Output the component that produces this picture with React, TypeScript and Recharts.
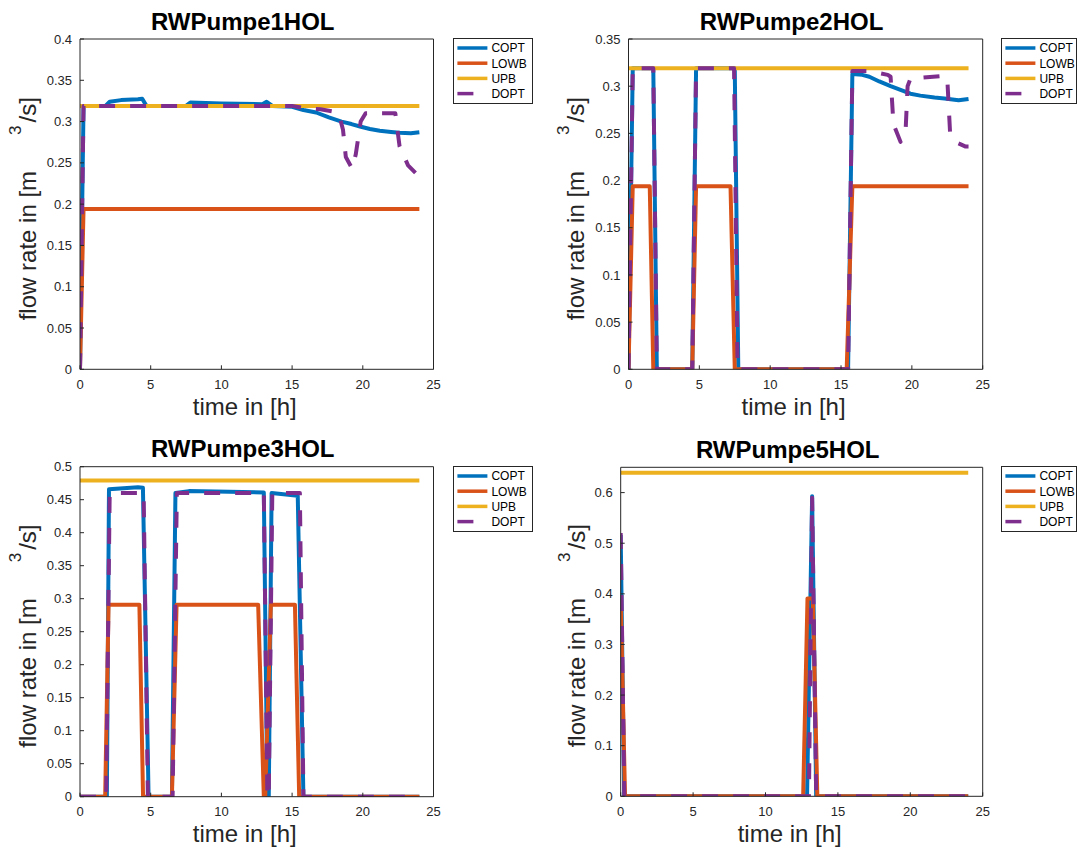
import { FC } from "react"
import { Label, Legend, Line, LineChart, XAxis, YAxis } from "recharts"

type Pt = { t: number; v: number }

const FONT = "'Liberation Sans', Arial, Helvetica, sans-serif"
const INK = '#262626'

const SERIES_NAMES: string[] = ['COPT', 'LOWB', 'UPB', 'DOPT']
const SERIES_COLORS: string[] = ['#0072BD', '#D95319', '#EDB120', '#7E2F8E']
const DASH = '16 15'

const X_TICKS = [0, 5, 10, 15, 20, 25]
const UPB_T = [0, 24]

// RWPumpe1HOL
const p1CoptT = [0, 0.25, 1.8, 2.1, 2.9, 4.1, 4.4, 4.7, 7.5, 7.8, 10, 12.9, 13.2, 13.6, 15, 15.8, 16.7, 17.6, 18.5, 19.2, 19.8, 20.5, 21.2, 22, 22.6, 23.4, 24]
const p1CoptV = [0, 0.319, 0.319, 0.324, 0.326, 0.327, 0.3277, 0.319, 0.319, 0.323, 0.322, 0.321, 0.324, 0.319, 0.318, 0.314, 0.311, 0.305, 0.3, 0.297, 0.294, 0.291, 0.289, 0.2875, 0.2866, 0.2858, 0.287]
const p1LowbT = [0, 0.25, 24]
const p1LowbV = [0, 0.194, 0.194]
const p1UpbV = [0.319, 0.319]
const p1DoptT = [0, 0.25, 15, 16, 17, 18, 18.3, 18.6, 18.8, 19.25, 19.5, 19.85, 20.2, 22.3, 22.6, 23.2, 24]
const p1DoptV = [0, 0.319, 0.319, 0.316, 0.315, 0.312, 0.31, 0.29, 0.257, 0.243, 0.26, 0.3, 0.31, 0.31, 0.27, 0.247, 0.233]

// RWPumpe2HOL
const p2CoptT = [0, 0.3, 1.75, 2.0, 4.5, 4.77, 7.5, 7.75, 15.5, 15.8, 16.5, 17, 17.7, 18.5, 19.2, 19.9, 20.6, 21.6, 22.3, 23.3, 24]
const p2CoptV = [0, 0.319, 0.319, 0, 0, 0.319, 0.319, 0, 0, 0.313, 0.312, 0.31, 0.305, 0.3, 0.296, 0.292, 0.29, 0.288, 0.287, 0.285, 0.2865]
const p2LowbT = [0, 0.3, 1.5, 1.75, 4.5, 4.77, 7.2, 7.5, 15.4, 15.8, 24]
const p2LowbV = [0, 0.194, 0.194, 0, 0, 0.194, 0.194, 0, 0, 0.194, 0.194]
const p2UpbV = [0.319, 0.319]
const p2DoptT = [0, 0.3, 1.75, 2.0, 4.5, 4.77, 7.45, 7.7, 15.5, 15.8, 17, 18.3, 18.5, 18.7, 19.2, 19.55, 19.7, 19.9, 22.3, 22.5, 22.7, 23.2, 23.8, 24]
const p2DoptV = [0, 0.319, 0.319, 0, 0, 0.319, 0.319, 0, 0, 0.316, 0.316, 0.312, 0.31, 0.26, 0.241, 0.25, 0.3, 0.308, 0.311, 0.308, 0.25, 0.24, 0.236, 0.236]

// RWPumpe3HOL
const p3CoptT = [0, 1.9, 2.05, 4.1, 4.45, 4.85, 6.5, 6.75, 7.7, 13.0, 13.25, 13.35, 13.55, 15.4, 15.8, 24]
const p3CoptV = [0, 0, 0.466, 0.469, 0.468, 0, 0, 0.46, 0.463, 0.461, 0, 0, 0.46, 0.456, 0, 0]
const p3LowbT = [0, 1.78, 2.02, 4.2, 4.46, 6.5, 6.83, 12.6, 13.0, 13.1, 13.5, 15.2, 15.5, 24]
const p3LowbV = [0, 0, 0.291, 0.291, 0, 0, 0.291, 0.291, 0, 0, 0.291, 0.291, 0, 0]
const p3UpbV = [0.479, 0.479]
const p3DoptT = [0, 1.85, 2.1, 4.5, 4.8, 6.55, 6.85, 13.0, 13.25, 13.35, 13.6, 15.55, 15.8, 24]
const p3DoptV = [0, 0, 0.46, 0.46, 0, 0, 0.46, 0.46, 0, 0, 0.46, 0.46, 0, 0]

// RWPumpe5HOL
const p4CoptT = [0, 0.24, 12.87, 13.22, 13.5, 24]
const p4CoptV = [0.516, 0, 0, 0.593, 0, 0]
const p4LowbT = [0, 0.3, 12.6, 12.9, 13.27, 13.58, 24]
const p4LowbV = [0.391, 0, 0, 0.391, 0.391, 0, 0]
const p4UpbV = [0.639, 0.639]
const p4DoptT = [0, 0.25, 13.0, 13.22, 13.5, 24]
const p4DoptV = [0.52, 0, 0, 0.59, 0, 0]

const pts = (t: number[], v: number[]): Pt[] => t.map((x, i) => ({ t: x, v: v[i] }))

interface IPanel {
	title: string
	cellLeft: number
	cellTop: number
	cellW: number
	cellH: number
	x0: number
	x1: number
	y0: number
	y1: number
	yMax: number
	yTicks: number[]
	yLabelGap: number
	legendLeft: number
	legendTop: number
	legendW: number
	series: Pt[][]
}

const LegendBox: FC<{ w: number }> = ({ w }) => (
	<div style={{ width: w, height: 66, border: `1px solid ${INK}`, background: '#fff', boxSizing: 'border-box' }}>
		<svg width={w - 2} height={64} style={{ display: 'block' }}>
			{SERIES_NAMES.map((name, i) => (
				<g key={name}>
					<line x1={3.4} x2={33.4} y1={9 + i * 15.2} y2={9 + i * 15.2} stroke={SERIES_COLORS[i]} strokeWidth={3.5}
						strokeDasharray={name === 'DOPT' ? '16 20' : undefined} />
					<text x={37.4} y={9 + i * 15.2} dy="0.36em" fontSize={12} fontFamily={FONT} fill="#000">{name}</text>
				</g>
			))}
		</svg>
	</div>
)

const Panel: FC<IPanel> = (p) => {
	const margin = {
		top: p.y0 - p.cellTop - 10,
		bottom: p.cellTop + p.cellH - p.y1 - 40,
		left: p.x0 - p.cellLeft - 50,
		right: p.cellLeft + p.cellW - p.x1 - 10,
	}
	const midX = (p.x0 + p.x1) / 2 - p.cellLeft
	const top = p.y0 - p.cellTop
	const bottom = p.y1 - p.cellTop
	const yLabelX = p.x0 - p.cellLeft - p.yLabelGap
	const yLabelY = bottom - 49
	const axisStyle = { stroke: INK, strokeWidth: 1 }
	const tickStyle = { fill: INK, fontSize: 13, fontFamily: FONT }

	return (
		<div style={{ position: 'absolute', left: p.cellLeft, top: p.cellTop }}>
			<LineChart width={p.cellW} height={p.cellH} margin={margin}>
				<XAxis dataKey="t" type="number" domain={[0, 25]} ticks={X_TICKS} interval={0} allowDataOverflow
					height={40} tickSize={-4} tickMargin={14} tick={tickStyle} axisLine={axisStyle} tickLine={axisStyle}>
					<Label content={() => (
						<text x={midX - 12} y={bottom + 45.5} textAnchor="middle" fontSize={24} fontFamily={FONT} fill={INK}>time in [h]</text>
					)} />
				</XAxis>
				<XAxis xAxisId="top" orientation="top" dataKey="t" type="number" domain={[0, 25]} ticks={X_TICKS} interval={0}
					allowDataOverflow height={10} tickSize={-4} tick={false} axisLine={axisStyle} tickLine={axisStyle}>
					<Label content={() => (
						<text x={midX - 14} y={top - 9.5} textAnchor="middle" fontSize={24} fontWeight="bold" fontFamily={FONT} fill="#000">{p.title}</text>
					)} />
				</XAxis>
				<YAxis type="number" domain={[0, p.yMax]} ticks={p.yTicks} interval={0} allowDataOverflow
					width={50} tickSize={-4} tickMargin={12} tick={tickStyle} axisLine={axisStyle} tickLine={axisStyle}>
					<Label content={() => (
						<text x={yLabelX} y={yLabelY} transform={`rotate(-90 ${yLabelX} ${yLabelY})`} fontSize={24} fontFamily={FONT} fill={INK}>
							<tspan>flow rate in [m</tspan>
							<tspan dx={36} dy={-15} fontSize={17}>3</tspan>
							<tspan dx={3} dy={15}>/s]</tspan>
						</text>
					)} />
				</YAxis>
				<YAxis yAxisId="right" orientation="right" type="number" domain={[0, p.yMax]} ticks={p.yTicks} interval={0}
					allowDataOverflow width={10} tickSize={-4} tick={false} axisLine={axisStyle} tickLine={axisStyle} />
				{p.series.map((data, i) => (
					<Line
						key={SERIES_NAMES[i]}
						data={data}
						dataKey="v"
						name={SERIES_NAMES[i]}
						type="linear"
						stroke={SERIES_COLORS[i]}
						strokeWidth={4}
						strokeDasharray={SERIES_NAMES[i] === 'DOPT' ? DASH : undefined}
						strokeLinejoin="round"
						dot={false}
						activeDot={false}
						isAnimationActive={false}
					/>
				))}
				<Legend layout="vertical" align="center" verticalAlign="middle" content={() => <LegendBox w={p.legendW} />}
					wrapperStyle={{ left: p.legendLeft - p.cellLeft, top: p.legendTop - p.cellTop, width: 'auto', height: 'auto' }} />
			</LineChart>
		</div>
	)
}

const App: FC = () => {
	return (
		<div style={{ position: 'absolute', left: 0, top: 0, width: 1077, height: 851, background: '#fff', overflow: 'hidden' }}>
			<Panel title="RWPumpe1HOL" cellLeft={0} cellTop={0} cellW={539} cellH={425}
				x0={80} x1={433.5} y0={39} y1={369.3} yMax={0.4}
				yTicks={[0, 0.05, 0.1, 0.15, 0.2, 0.25, 0.3, 0.35, 0.4]} yLabelGap={44}
				legendLeft={453.3} legendTop={38.3} legendW={80}
				series={[pts(p1CoptT, p1CoptV), pts(p1LowbT, p1LowbV), pts(UPB_T, p1UpbV), pts(p1DoptT, p1DoptV)]} />
			<Panel title="RWPumpe2HOL" cellLeft={539} cellTop={0} cellW={538} cellH={425}
				x0={628.5} x1={982.7} y0={39} y1={369.3} yMax={0.35}
				yTicks={[0, 0.05, 0.1, 0.15, 0.2, 0.25, 0.3, 0.35]} yLabelGap={44}
				legendLeft={1000.7} legendTop={38.3} legendW={76.3}
				series={[pts(p2CoptT, p2CoptV), pts(p2LowbT, p2LowbV), pts(UPB_T, p2UpbV), pts(p2DoptT, p2DoptV)]} />
			<Panel title="RWPumpe3HOL" cellLeft={0} cellTop={425} cellW={539} cellH={426}
				x0={80} x1={433.5} y0={466.7} y1={796.7} yMax={0.5}
				yTicks={[0, 0.05, 0.1, 0.15, 0.2, 0.25, 0.3, 0.35, 0.4, 0.45, 0.5]} yLabelGap={44}
				legendLeft={453.3} legendTop={465.5} legendW={80}
				series={[pts(p3CoptT, p3CoptV), pts(p3LowbT, p3LowbV), pts(UPB_T, p3UpbV), pts(p3DoptT, p3DoptV)]} />
			<Panel title="RWPumpe5HOL" cellLeft={539} cellTop={425} cellW={538} cellH={426}
				x0={620.7} x1={982.7} y0={467.3} y1={796.3} yMax={0.65}
				yTicks={[0, 0.1, 0.2, 0.3, 0.4, 0.5, 0.6]} yLabelGap={36}
				legendLeft={1000.7} legendTop={466} legendW={76.3}
				series={[pts(p4CoptT, p4CoptV), pts(p4LowbT, p4LowbV), pts(UPB_T, p4UpbV), pts(p4DoptT, p4DoptV)]} />
		</div>
	)
}

export default App
